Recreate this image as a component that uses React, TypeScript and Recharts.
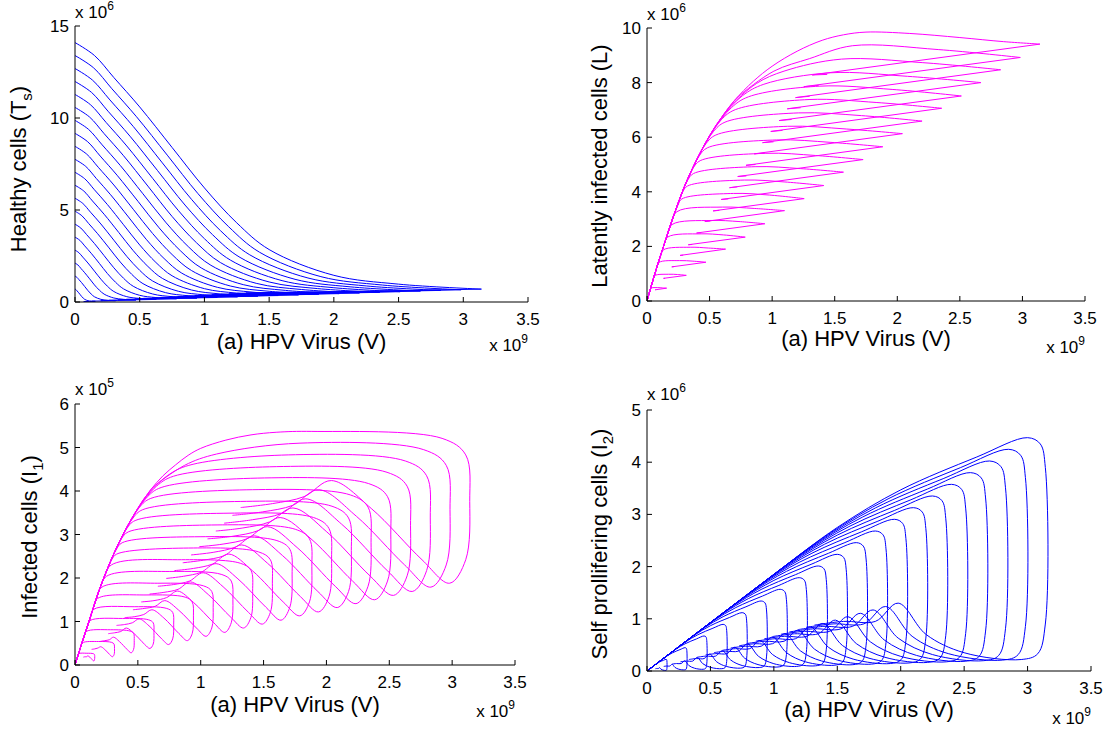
import { LineChart, Line, XAxis, YAxis } from 'recharts';

// Axis ticks (x in units of 10^9, y in the unit shown by each exponent label)
const V_TICKS = [0, 0.5, 1, 1.5, 2, 2.5, 3, 3.5];
const HEALTHY_TICKS = [0, 5, 10, 15];
const LATENT_TICKS = [0, 2, 4, 6, 8, 10];
const INFECTED_TICKS = [0, 1, 2, 3, 4, 5, 6];
const PROLIF_TICKS = [0, 1, 2, 3, 4, 5];

// Healthy cells T_s vs V : one flat list (v, t, v, t ...) per trajectory
const HEALTHY_CURVES: number[][] = [
  [0, .705, .008, .67, .015, .61, .025, .53, .038, .42, .05, .31, .063, .215, .075, .143, .1, .073, .125, .049, .157, .035, .11, .029, .066, .025],
  [0, 1.41, .015, 1.34, .03, 1.22, .05, 1.06, .075, .84, .1, .62, .125, .43, .15, .285, .2, .145, .25, .097, .314, .07, .22, .058, .132, .05],
  [0, 2.115, .023, 2.01, .045, 1.83, .075, 1.59, .113, 1.26, .15, .93, .188, .645, .225, .428, .3, .218, .375, .146, .471, .105, .33, .087, .198, .075],
  [0, 2.82, .03, 2.68, .06, 2.44, .1, 2.12, .15, 1.68, .2, 1.24, .25, .86, .3, .57, .4, .29, .5, .194, .628, .14, .44, .116, .264, .1],
  [0, 3.525, .038, 3.35, .075, 3.05, .125, 2.65, .188, 2.1, .25, 1.55, .313, 1.075, .375, .713, .5, .363, .625, .243, .785, .175, .55, .145, .33, .125],
  [0, 4.23, .045, 4.02, .09, 3.66, .15, 3.18, .225, 2.52, .3, 1.86, .375, 1.29, .45, .855, .6, .435, .75, .291, .942, .21, .66, .174, .396, .15],
  [0, 4.935, .053, 4.69, .105, 4.27, .175, 3.71, .263, 2.94, .35, 2.17, .438, 1.505, .525, .998, .7, .508, .875, .34, 1.099, .245, .77, .203, .462, .175],
  [0, 5.64, .06, 5.36, .12, 4.88, .2, 4.24, .3, 3.36, .4, 2.48, .5, 1.72, .6, 1.14, .8, .58, 1.0, .388, 1.256, .28, .88, .232, .528, .2],
  [0, 6.345, .068, 6.03, .135, 5.49, .225, 4.77, .338, 3.78, .45, 2.79, .563, 1.935, .675, 1.283, .9, .653, 1.125, .437, 1.413, .315, .99, .261, .594, .225],
  [0, 7.05, .075, 6.7, .15, 6.1, .25, 5.3, .375, 4.2, .5, 3.1, .625, 2.15, .75, 1.425, 1.0, .725, 1.25, .485, 1.57, .35, 1.1, .29, .66, .25],
  [0, 7.755, .083, 7.37, .165, 6.71, .275, 5.83, .413, 4.62, .55, 3.41, .688, 2.365, .825, 1.568, 1.1, .798, 1.375, .534, 1.727, .385, 1.21, .319, .726, .275],
  [0, 8.46, .09, 8.04, .18, 7.32, .3, 6.36, .45, 5.04, .6, 3.72, .75, 2.58, .9, 1.71, 1.2, .87, 1.5, .582, 1.884, .42, 1.32, .348, .792, .3],
  [0, 9.165, .098, 8.71, .195, 7.93, .325, 6.89, .488, 5.46, .65, 4.03, .813, 2.795, .975, 1.853, 1.3, .943, 1.625, .631, 2.041, .455, 1.43, .377, .858, .325],
  [0, 9.87, .105, 9.38, .21, 8.54, .35, 7.42, .525, 5.88, .7, 4.34, .875, 3.01, 1.05, 1.995, 1.4, 1.015, 1.75, .679, 2.198, .49, 1.54, .406, .924, .35],
  [0, 10.575, .113, 10.05, .225, 9.15, .375, 7.95, .563, 6.3, .75, 4.65, .938, 3.225, 1.125, 2.138, 1.5, 1.088, 1.875, .728, 2.355, .525, 1.65, .435, .99, .375],
  [0, 11.28, .12, 10.72, .24, 9.76, .4, 8.48, .6, 6.72, .8, 4.96, 1.0, 3.44, 1.2, 2.28, 1.6, 1.16, 2.0, .776, 2.512, .56, 1.76, .464, 1.056, .4],
  [0, 11.985, .128, 11.39, .255, 10.37, .425, 9.01, .638, 7.14, .85, 5.27, 1.063, 3.655, 1.275, 2.423, 1.7, 1.233, 2.125, .825, 2.669, .595, 1.87, .493, 1.122, .425],
  [0, 12.69, .135, 12.06, .27, 10.98, .45, 9.54, .675, 7.56, .9, 5.58, 1.125, 3.87, 1.35, 2.565, 1.8, 1.305, 2.25, .873, 2.826, .63, 1.98, .522, 1.188, .45],
  [0, 13.395, .143, 12.73, .285, 11.59, .475, 10.07, .713, 7.98, .95, 5.89, 1.188, 4.085, 1.425, 2.708, 1.9, 1.378, 2.375, .922, 2.983, .665, 2.09, .551, 1.254, .475],
  [0, 14.1, .15, 13.4, .3, 12.2, .5, 10.6, .75, 8.4, 1.0, 6.2, 1.25, 4.3, 1.5, 2.85, 2.0, 1.45, 2.5, .97, 3.14, .7, 2.2, .58, 1.32, .5],
];

// Latently infected L vs V : shared rising edge + the part where each trajectory peels off
const LATENT_ENVELOPE = [0, 0, .05, .8, .1, 1.55, .15, 2.25, .2, 2.95, .3, 4.2, .4, 5.2, .5, 6.05, .6, 6.75, .7, 7.35, .85, 8.05, 1.0, 8.6, 1.2, 9.15, 1.4, 9.55];
const LATENT_TAILS: number[][] = [
  [.024, .39, .031, .47, .086, .49, .122, .48, .157, .47, .066, .41, .072, .42],
  [.049, .78, .062, .93, .173, .98, .245, .97, .314, .94, .132, .83, .144, .83],
  [.075, 1.18, .095, 1.41, .259, 1.48, .367, 1.46, .471, 1.42, .198, 1.25, .217, 1.26],
  [.102, 1.58, .13, 1.87, .345, 1.97, .49, 1.94, .628, 1.9, .264, 1.67, .289, 1.68],
  [.13, 1.97, .165, 2.34, .432, 2.46, .612, 2.42, .785, 2.34, .33, 2.06, .361, 2.07],
  [.158, 2.36, .2, 2.8, .518, 2.95, .735, 2.91, .942, 2.83, .396, 2.49, .433, 2.5],
  [.186, 2.75, .239, 3.27, .604, 3.44, .857, 3.39, 1.099, 3.31, .462, 2.91, .506, 2.93],
  [.216, 3.15, .248, 3.52, .279, 3.74, .691, 3.94, .98, 3.88, 1.256, 3.75, .528, 3.3, .578, 3.32],
  [.247, 3.54, .285, 3.99, .323, 4.21, .777, 4.43, 1.102, 4.36, 1.413, 4.23, .593, 3.72, .65, 3.74],
  [.279, 3.94, .326, 4.43, .372, 4.67, .864, 4.92, 1.225, 4.85, 1.57, 4.72, .659, 4.15, .722, 4.18],
  [.313, 4.33, .369, 4.87, .425, 5.14, .95, 5.41, 1.347, 5.33, 1.727, 5.18, .725, 4.56, .794, 4.58],
  [.352, 4.72, .417, 5.31, .482, 5.61, 1.036, 5.9, 1.47, 5.81, 1.884, 5.65, .791, 4.97, .867, 5.0],
  [.392, 5.12, .471, 5.76, .55, 6.08, 1.123, 6.4, 1.592, 6.3, 2.041, 6.13, .857, 5.39, .939, 5.42],
  [.436, 5.51, .53, 6.2, .623, 6.55, 1.209, 6.89, 1.714, 6.79, 2.198, 6.59, .923, 5.8, 1.011, 5.83],
  [.482, 5.9, .594, 6.64, .706, 7.01, 1.295, 7.38, 1.837, 7.27, 2.355, 7.06, .989, 6.21, 1.083, 6.25],
  [.536, 6.3, .674, 7.08, .811, 7.48, 1.382, 7.87, 1.959, 7.75, 2.512, 7.51, 1.055, 6.61, 1.156, 6.65],
  [.591, 6.69, .763, 7.52, .934, 7.94, 1.468, 8.36, 2.082, 8.23, 2.669, 8.0, 1.121, 7.04, 1.228, 7.08],
  [.657, 7.09, .876, 7.97, 1.095, 8.42, 1.554, 8.86, 2.204, 8.73, 2.826, 8.47, 1.187, 7.45, 1.3, 7.5],
  [.728, 7.48, 1.014, 8.42, 1.3, 8.88, 1.641, 9.35, 2.327, 9.21, 2.983, 8.92, 1.253, 7.85, 1.372, 7.9],
  [1.57, 9.75, 1.75, 9.85, 2.1, 9.8, 2.5, 9.65, 2.85, 9.5, 3.14, 9.41, 1.32, 8.28, 1.44, 8.3],
];

// Infected cells I_1 vs V
const INFECTED_ENVELOPE = [0, 0, .05, .46, .1, .9, .15, 1.35, .2, 1.78, .3, 2.5, .4, 3.1, .5, 3.6, .6, 4.02, .7, 4.35, .8, 4.6, .9, 4.82, 1.0, 4.98, 1.2, 5.17, 1.4, 5.29, 1.6, 5.35];
const INFECTED_TAILS: number[][] = [
  [.023, .21, .029, .26, .094, .27, .146, .26, .155, .24, .157, .19, .155, .12, .149, .09, .138, .12, .118, .18, .102, .21, .091, .19, .079, .19, .066, .18],
  [.047, .43, .059, .51, .188, .54, .292, .52, .311, .48, .314, .38, .311, .24, .298, .19, .276, .24, .236, .36, .204, .42, .182, .39, .157, .37, .132, .36],
  [.072, .64, .09, .77, .283, .81, .438, .78, .466, .73, .471, .56, .466, .36, .447, .28, .414, .36, .353, .54, .306, .64, .273, .58, .236, .56, .198, .54],
  [.095, .86, .119, 1.02, .377, 1.07, .584, 1.04, .622, .97, .628, .75, .622, .48, .596, .38, .552, .48, .471, .72, .408, .85, .364, .77, .314, .74, .264, .72],
  [.119, 1.07, .149, 1.28, .471, 1.34, .73, 1.3, .777, 1.21, .785, .94, .777, .6, .745, .47, .69, .6, .589, .9, .51, 1.06, .456, .97, .393, .93, .33, .91],
  [.143, 1.29, .18, 1.53, .565, 1.61, .876, 1.56, .932, 1.45, .942, 1.13, .932, .72, .894, .56, .828, .72, .707, 1.08, .612, 1.27, .547, 1.16, .471, 1.11, .395, 1.09],
  [.167, 1.5, .214, 1.79, .659, 1.88, 1.022, 1.82, 1.088, 1.69, 1.099, 1.32, 1.088, .85, 1.043, .66, .966, .85, .825, 1.26, .714, 1.48, .638, 1.35, .55, 1.3, .461, 1.27],
  [.193, 1.72, .251, 2.04, .754, 2.15, 1.168, 2.08, 1.243, 1.93, 1.256, 1.5, 1.243, .97, 1.192, .75, 1.104, .97, .942, 1.44, .816, 1.7, .729, 1.55, .628, 1.48, .527, 1.45],
  [.222, 1.94, .289, 2.3, .848, 2.42, 1.314, 2.34, 1.399, 2.18, 1.413, 1.69, 1.399, 1.09, 1.341, .85, 1.242, 1.09, 1.06, 1.62, .918, 1.91, .82, 1.74, .707, 1.67, .593, 1.63],
  [.251, 2.15, .292, 2.42, .332, 2.55, .942, 2.69, 1.46, 2.6, 1.554, 2.42, 1.57, 1.88, 1.554, 1.21, 1.49, .94, 1.38, 1.21, 1.178, 1.8, 1.02, 2.12, .911, 1.93, .785, 1.85, .659, 1.81],
  [.281, 2.36, .328, 2.65, .375, 2.81, 1.036, 2.95, 1.606, 2.86, 1.709, 2.66, 1.727, 2.07, 1.709, 1.33, 1.639, 1.03, 1.518, 1.33, 1.296, 1.98, 1.122, 2.33, 1.002, 2.13, .864, 2.04, .725, 1.99],
  [.313, 2.58, .369, 2.9, .424, 3.06, 1.13, 3.22, 1.752, 3.12, 1.865, 2.9, 1.884, 2.26, 1.865, 1.45, 1.788, 1.13, 1.656, 1.45, 1.414, 2.16, 1.224, 2.55, 1.093, 2.32, .942, 2.22, .791, 2.17],
  [.348, 2.79, .413, 3.14, .478, 3.32, 1.225, 3.49, 1.898, 3.39, 2.02, 3.14, 2.041, 2.44, 2.02, 1.57, 1.937, 1.22, 1.794, 1.57, 1.531, 2.34, 1.326, 2.76, 1.184, 2.51, 1.021, 2.41, .857, 2.35],
  [.385, 3.01, .462, 3.38, .538, 3.57, 1.319, 3.76, 2.044, 3.65, 2.176, 3.38, 2.198, 2.63, 2.176, 1.69, 2.086, 1.32, 1.932, 1.69, 1.649, 2.52, 1.428, 2.97, 1.275, 2.71, 1.099, 2.59, .923, 2.53],
  [.424, 3.22, .514, 3.63, .603, 3.83, 1.413, 4.03, 2.19, 3.91, 2.331, 3.63, 2.355, 2.82, 2.331, 1.81, 2.235, 1.41, 2.07, 1.81, 1.767, 2.7, 1.53, 3.18, 1.367, 2.9, 1.178, 2.78, .989, 2.72],
  [.468, 3.44, .577, 3.87, .685, 4.08, 1.507, 4.3, 2.336, 4.17, 2.486, 3.87, 2.512, 3.01, 2.486, 1.93, 2.384, 1.5, 2.208, 1.93, 1.885, 2.88, 1.632, 3.39, 1.458, 3.09, 1.256, 2.96, 1.054, 2.9],
  [.512, 3.65, .648, 4.11, .784, 4.34, 1.601, 4.56, 2.482, 4.43, 2.642, 4.11, 2.669, 3.2, 2.642, 2.05, 2.533, 1.6, 2.346, 2.05, 2.003, 3.06, 1.734, 3.61, 1.549, 3.29, 1.335, 3.15, 1.12, 3.08],
  [.562, 3.87, .734, 4.35, .906, 4.59, 1.696, 4.83, 2.628, 4.69, 2.797, 4.35, 2.826, 3.38, 2.797, 2.17, 2.682, 1.69, 2.484, 2.17, 2.12, 3.24, 1.836, 3.82, 1.64, 3.48, 1.413, 3.34, 1.186, 3.26],
  [.618, 4.08, .872, 4.59, 1.126, 4.85, 1.79, 5.1, 2.774, 4.95, 2.953, 4.59, 2.983, 3.57, 2.953, 2.3, 2.831, 1.79, 2.622, 2.3, 2.238, 3.42, 1.938, 4.03, 1.731, 3.67, 1.492, 3.52, 1.252, 3.44],
  [1.884, 5.37, 2.92, 5.21, 3.108, 4.83, 3.14, 3.76, 3.108, 2.42, 2.98, 1.88, 2.76, 2.42, 2.356, 3.6, 2.04, 4.24, 1.822, 3.87, 1.57, 3.71, 1.318, 3.62],
];

// Self proliferating cells I_2 vs V
const PROLIF_CURVES: number[][] = [
  [0, 0, .05, .093, .075, .138, .1, .174, .13, .205, .15, .224, .155, .218, .157, .195, .157, .045, .154, .017, .148, .011, .125, .018, .11, .035, .099, .065, .09, .048, .078, .048, .066, .044],
  [0, 0, .1, .185, .15, .275, .2, .347, .26, .41, .3, .447, .31, .435, .314, .39, .314, .09, .308, .033, .295, .022, .25, .035, .22, .07, .198, .13, .18, .095, .155, .095, .132, .088],
  [0, 0, .15, .278, .225, .413, .3, .521, .39, .615, .45, .671, .465, .653, .471, .585, .471, .135, .462, .05, .443, .033, .375, .053, .33, .105, .297, .195, .27, .143, .233, .143, .198, .132],
  [0, 0, .2, .37, .3, .55, .4, .694, .52, .82, .6, .894, .62, .87, .628, .78, .628, .18, .616, .066, .59, .044, .5, .07, .44, .14, .396, .26, .36, .19, .31, .19, .264, .176],
  [0, 0, .25, .463, .375, .688, .5, .868, .65, 1.025, .75, 1.118, .775, 1.088, .785, .975, .785, .225, .77, .083, .738, .055, .625, .088, .55, .175, .495, .325, .45, .238, .388, .238, .33, .22],
  [0, 0, .3, .555, .45, .825, .6, 1.041, .78, 1.23, .9, 1.341, .93, 1.305, .942, 1.17, .942, .27, .924, .099, .885, .066, .75, .105, .66, .21, .594, .39, .54, .285, .465, .285, .396, .264],
  [0, 0, .35, .648, .525, .963, .7, 1.215, .91, 1.435, 1.05, 1.565, 1.085, 1.523, 1.099, 1.365, 1.099, .315, 1.078, .116, 1.033, .077, .875, .123, .77, .245, .693, .455, .63, .333, .543, .333, .462, .308],
  [0, 0, .4, .74, .6, 1.1, .8, 1.388, 1.04, 1.64, 1.2, 1.788, 1.24, 1.74, 1.256, 1.56, 1.256, .36, 1.232, .132, 1.18, .088, 1.0, .14, .88, .28, .792, .52, .72, .38, .62, .38, .528, .352],
  [0, 0, .45, .833, .675, 1.238, .9, 1.562, 1.17, 1.845, 1.35, 2.012, 1.395, 1.958, 1.413, 1.755, 1.413, .405, 1.386, .149, 1.328, .099, 1.125, .158, .99, .315, .891, .585, .81, .428, .698, .428, .594, .396],
  [0, 0, .5, .925, .75, 1.375, 1.0, 1.735, 1.3, 2.05, 1.5, 2.235, 1.55, 2.175, 1.57, 1.95, 1.57, .45, 1.54, .165, 1.475, .11, 1.25, .175, 1.1, .35, .99, .65, .9, .475, .775, .475, .66, .44],
  [0, 0, .55, 1.018, .825, 1.513, 1.1, 1.909, 1.43, 2.255, 1.65, 2.459, 1.705, 2.393, 1.727, 2.145, 1.727, .495, 1.694, .182, 1.623, .121, 1.375, .193, 1.21, .385, 1.089, .715, .99, .523, .853, .523, .726, .484],
  [0, 0, .6, 1.11, .9, 1.65, 1.2, 2.082, 1.56, 2.46, 1.8, 2.682, 1.86, 2.61, 1.884, 2.34, 1.884, .54, 1.848, .198, 1.77, .132, 1.5, .21, 1.32, .42, 1.188, .78, 1.08, .57, .93, .57, .792, .528],
  [0, 0, .65, 1.203, .975, 1.788, 1.3, 2.256, 1.69, 2.665, 1.95, 2.906, 2.015, 2.828, 2.041, 2.535, 2.041, .585, 2.002, .215, 1.918, .143, 1.625, .228, 1.43, .455, 1.287, .845, 1.17, .618, 1.008, .618, .858, .572],
  [0, 0, .7, 1.295, 1.05, 1.925, 1.4, 2.429, 1.82, 2.87, 2.1, 3.129, 2.17, 3.045, 2.198, 2.73, 2.198, .63, 2.156, .231, 2.065, .154, 1.75, .245, 1.54, .49, 1.386, .91, 1.26, .665, 1.085, .665, .924, .616],
  [0, 0, .75, 1.388, 1.125, 2.063, 1.5, 2.603, 1.95, 3.075, 2.25, 3.353, 2.325, 3.263, 2.355, 2.925, 2.355, .675, 2.31, .248, 2.213, .165, 1.875, .263, 1.65, .525, 1.485, .975, 1.35, .713, 1.163, .713, .99, .66],
  [0, 0, .8, 1.48, 1.2, 2.2, 1.6, 2.776, 2.08, 3.28, 2.4, 3.576, 2.48, 3.48, 2.512, 3.12, 2.512, .72, 2.464, .264, 2.36, .176, 2.0, .28, 1.76, .56, 1.584, 1.04, 1.44, .76, 1.24, .76, 1.056, .704],
  [0, 0, .85, 1.573, 1.275, 2.338, 1.7, 2.95, 2.21, 3.485, 2.55, 3.8, 2.635, 3.698, 2.669, 3.315, 2.669, .765, 2.618, .281, 2.508, .187, 2.125, .298, 1.87, .595, 1.683, 1.105, 1.53, .808, 1.318, .808, 1.122, .748],
  [0, 0, .9, 1.665, 1.35, 2.475, 1.8, 3.123, 2.34, 3.69, 2.7, 4.023, 2.79, 3.915, 2.826, 3.51, 2.826, .81, 2.772, .297, 2.655, .198, 2.25, .315, 1.98, .63, 1.782, 1.17, 1.62, .855, 1.395, .855, 1.188, .792],
  [0, 0, .95, 1.758, 1.425, 2.613, 1.9, 3.297, 2.47, 3.895, 2.85, 4.247, 2.945, 4.133, 2.983, 3.705, 2.983, .855, 2.926, .314, 2.803, .209, 2.375, .333, 2.09, .665, 1.881, 1.235, 1.71, .903, 1.473, .903, 1.254, .836],
  [0, 0, 1.0, 1.85, 1.5, 2.75, 2.0, 3.47, 2.6, 4.1, 3.0, 4.47, 3.1, 4.35, 3.14, 3.9, 3.14, .9, 3.08, .33, 2.95, .22, 2.5, .35, 2.2, .7, 1.98, 1.3, 1.8, .95, 1.55, .95, 1.32, .88],
];

type Pt = { x: number; y: number };
type Stroke = { pts: Pt[]; smooth: boolean };

function toPoints(flat: number[]): Pt[] {
  const out: Pt[] = [];
  for (let i = 0; i < flat.length; i += 2) out.push({ x: flat[i], y: flat[i + 1] });
  return out;
}

/** Shared rising edge up to where the trajectory's own points start. */
function withEnvelope(env: number[], tail: number[]): Pt[] {
  return [...toPoints(env).filter((p) => p.x < tail[0]), ...toPoints(tail)];
}

/** Smooth run up to the turning point (largest V), straight return after it. */
function splitAtTip(pts: Pt[]): Stroke[] {
  let tip = 0;
  pts.forEach((p, i) => {
    if (p.x > pts[tip].x) tip = i;
  });
  return [
    { pts: pts.slice(0, tip + 1), smooth: true },
    { pts: pts.slice(tip), smooth: false },
  ];
}

/** Centripetal Catmull-Rom through every point (d3 curve-factory shape). */
function catmullRom(context: any) {
  let pts: number[][] = [];
  return {
    areaStart() {},
    areaEnd() {},
    lineStart() {
      pts = [];
    },
    point(x: number, y: number) {
      pts.push([+x, +y]);
    },
    lineEnd() {
      const n = pts.length;
      if (!n) return;
      context.moveTo(pts[0][0], pts[0][1]);
      for (let i = 0; i < n - 1; i++) {
        const p0 = pts[Math.max(i - 1, 0)];
        const p1 = pts[i];
        const p2 = pts[i + 1];
        const p3 = pts[Math.min(i + 2, n - 1)];
        const d1 = Math.hypot(p1[0] - p0[0], p1[1] - p0[1]);
        const d2 = Math.hypot(p2[0] - p1[0], p2[1] - p1[1]);
        const d3 = Math.hypot(p3[0] - p2[0], p3[1] - p2[1]);
        const a1 = Math.sqrt(d1);
        const a2 = Math.sqrt(d2);
        const a3 = Math.sqrt(d3);
        let c1x = p1[0];
        let c1y = p1[1];
        let c2x = p2[0];
        let c2y = p2[1];
        if (a1 > 1e-6) {
          const A = 2 * d1 + 3 * a1 * a2 + d2;
          const N = 3 * a1 * (a1 + a2);
          c1x = (p1[0] * A - p0[0] * d2 + p2[0] * d1) / N;
          c1y = (p1[1] * A - p0[1] * d2 + p2[1] * d1) / N;
        }
        if (a3 > 1e-6) {
          const B = 2 * d3 + 3 * a3 * a2 + d2;
          const M = 3 * a3 * (a3 + a2);
          c2x = (p2[0] * B + p1[0] * d3 - p3[0] * d2) / M;
          c2y = (p2[1] * B + p1[1] * d3 - p3[1] * d2) / M;
        }
        context.bezierCurveTo(c1x, c1y, c2x, c2y, p2[0], p2[1]);
      }
    },
  };
}

const FONT = '"Liberation Sans", Arial, Helvetica, sans-serif';

interface PanelCfg {
  left: number;
  top: number;
  width: number;
  height: number;
  plot: { l: number; t: number; r: number; b: number };
  yDomain: [number, number];
  yTicks: number[];
  color: string;
  strokes: Stroke[];
  yTitle: string;
  ySub?: string;
  yTitleX: number;
  yTitleY: number;
  yPower: string;
  yExpY: number;
  xTitleY: number;
  xExpY: number;
}

const PANELS: PanelCfg[] = [
  {
    left: 0, top: 0, width: 560, height: 370,
    plot: { l: 75, t: 26, r: 528, b: 302 },
    yDomain: [0, 15], yTicks: HEALTHY_TICKS, color: '#0000ff',
    strokes: HEALTHY_CURVES.flatMap((c) => splitAtTip(toPoints(c))),
    yTitle: 'Healthy cells (T', ySub: 's', yTitleX: 26, yTitleY: 169,
    yPower: '6', yExpY: 18, xTitleY: 349, xExpY: 351,
  },
  {
    left: 575, top: 0, width: 535, height: 370,
    plot: { l: 647, t: 28, r: 1085, b: 301 },
    yDomain: [0, 10], yTicks: LATENT_TICKS, color: '#ff00ff',
    strokes: LATENT_TAILS.flatMap((t) => splitAtTip(withEnvelope(LATENT_ENVELOPE, t))),
    yTitle: 'Latently infected cells (L)', yTitleX: 607, yTitleY: 166,
    yPower: '6', yExpY: 20, xTitleY: 346, xExpY: 353,
  },
  {
    left: 0, top: 370, width: 560, height: 367,
    plot: { l: 75, t: 404, r: 515, b: 665 },
    yDomain: [0, 6], yTicks: INFECTED_TICKS, color: '#ff00ff',
    strokes: INFECTED_TAILS.map((t) => ({ pts: withEnvelope(INFECTED_ENVELOPE, t), smooth: true })),
    yTitle: 'Infected cells (I', ySub: '1', yTitleX: 37, yTitleY: 537,
    yPower: '5', yExpY: 395, xTitleY: 712, xExpY: 717,
  },
  {
    left: 575, top: 370, width: 535, height: 367,
    plot: { l: 647, t: 410, r: 1091, b: 671 },
    yDomain: [0, 5], yTicks: PROLIF_TICKS, color: '#0000ff',
    strokes: PROLIF_CURVES.map((c) => ({ pts: toPoints(c), smooth: true })),
    yTitle: 'Self prollifering cells (I', ySub: '2', yTitleX: 607, yTitleY: 544,
    yPower: '6', yExpY: 400, xTitleY: 717, xExpY: 724,
  },
];

function Exponent({ x, y, power, anchor }: { x: number; y: number; power: string; anchor: 'start' | 'end' }) {
  return (
    <text x={x} y={y} textAnchor={anchor} fontSize={17} fill="#000" fontFamily={FONT}>
      x 10
      <tspan dy={-8} fontSize={12}>
        {power}
      </tspan>
    </text>
  );
}

function Panel({ cfg }: { cfg: PanelCfg }) {
  const { left, top, width, height, plot } = cfg;
  // chart-local coordinates
  const lx = (px: number) => px - left;
  const ly = (py: number) => py - top;

  const yLabel = () => (
    <g>
      <text
        x={lx(cfg.yTitleX)}
        y={ly(cfg.yTitleY)}
        transform={`rotate(-90 ${lx(cfg.yTitleX)} ${ly(cfg.yTitleY)})`}
        textAnchor="middle"
        fontSize={22}
        fill="#000"
        fontFamily={FONT}
      >
        {cfg.yTitle}
        {cfg.ySub ? (
          <tspan dy={6} fontSize={15}>
            {cfg.ySub}
          </tspan>
        ) : null}
        {cfg.ySub ? <tspan dy={-6}>)</tspan> : null}
      </text>
      <Exponent x={lx(plot.l)} y={ly(cfg.yExpY)} power={cfg.yPower} anchor="start" />
    </g>
  );

  const xLabel = () => (
    <g>
      <text
        x={lx((plot.l + plot.r) / 2)}
        y={ly(cfg.xTitleY)}
        textAnchor="middle"
        fontSize={22}
        fill="#000"
        fontFamily={FONT}
      >
        (a) HPV Virus (V)
      </text>
      <Exponent x={lx(plot.r)} y={ly(cfg.xExpY)} power="9" anchor="end" />
    </g>
  );

  const tickStyle = { fill: '#000', fontSize: 17, fontFamily: FONT };

  return (
    <div style={{ position: 'absolute', left, top }}>
      <LineChart
        width={width}
        height={height}
        margin={{ top: plot.t - top, right: left + width - plot.r, bottom: 0, left: 0 }}
      >
        <XAxis
          xAxisId="b"
          type="number"
          dataKey="x"
          domain={[0, 3.5]}
          ticks={V_TICKS}
          interval={0}
          tickSize={-5}
          tickMargin={16}
          height={top + height - plot.b}
          stroke="#000"
          tick={tickStyle}
          allowDataOverflow
          label={xLabel}
        />
        <XAxis
          xAxisId="t"
          orientation="top"
          type="number"
          domain={[0, 3.5]}
          ticks={V_TICKS}
          interval={0}
          tick={false}
          tickSize={-5}
          height={0}
          stroke="#000"
        />
        <YAxis
          yAxisId="l"
          type="number"
          domain={cfg.yDomain}
          ticks={cfg.yTicks}
          interval={0}
          tickSize={-5}
          tickMargin={11}
          width={plot.l - left}
          stroke="#000"
          tick={tickStyle}
          allowDataOverflow
          label={yLabel}
        />
        <YAxis
          yAxisId="r"
          orientation="right"
          type="number"
          domain={cfg.yDomain}
          ticks={cfg.yTicks}
          interval={0}
          tick={false}
          tickSize={-5}
          width={0}
          stroke="#000"
        />
        {cfg.strokes.map((s, i) => (
          <Line
            key={i}
            xAxisId="b"
            yAxisId="l"
            data={s.pts}
            dataKey="y"
            type={s.smooth ? (catmullRom as any) : 'linear'}
            stroke={cfg.color}
            strokeWidth={1}
            dot={false}
            activeDot={false}
            isAnimationActive={false}
          />
        ))}
      </LineChart>
    </div>
  );
}

export default function App() {
  return (
    <div
      style={{
        position: 'absolute',
        left: 0,
        top: 0,
        width: 1110,
        height: 737,
        background: '#fff',
        fontFamily: FONT,
      }}
    >
      {PANELS.map((cfg, i) => (
        <Panel key={i} cfg={cfg} />
      ))}
    </div>
  );
}
